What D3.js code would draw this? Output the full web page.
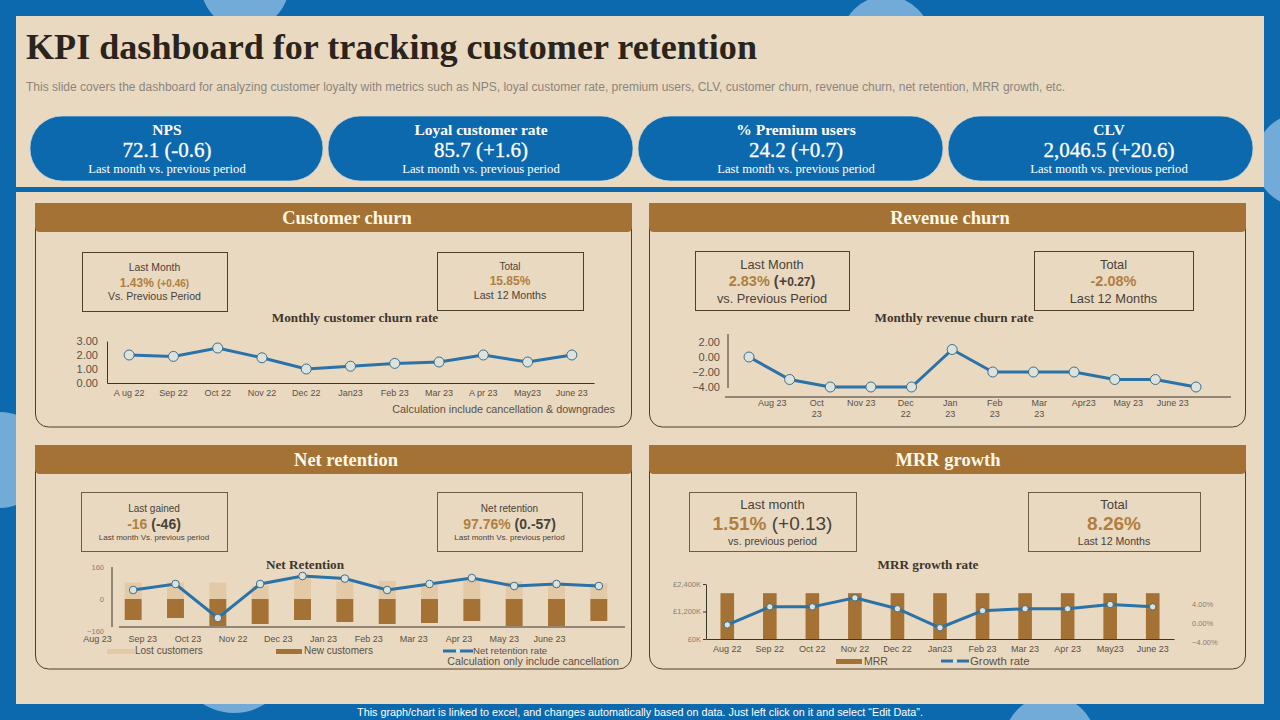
<!DOCTYPE html>
<html>
<head>
<meta charset="utf-8">
<script src="https://cdn.jsdelivr.net/npm/d3@7"></script>
<style>
  html, body { margin: 0; padding: 0; background: #0d69ad; }
  svg { display: block; }
  text { font-family: "Liberation Sans", Arial, sans-serif; }
  .serif { font-family: "Liberation Serif", serif; font-weight: bold; }
</style>
</head>
<body>
<svg id="chart" width="1280" height="720"></svg>
<script>
// values
var kpiNames = ["NPS", "Loyal customer  rate", "% Premium users", "CLV"];
var kpiValues = ["72.1 (-0.6)", "85.7 (+1.6)", "24.2 (+0.7)", "2,046.5 (+20.6)"];

var churnMonths = ["A ug 22", "Sep 22", "Oct 22", "Nov 22", "Dec 22", "Jan23", "Feb 23", "Mar 23", "A pr 23", "May23", "June 23"];
var churnRate = [2.0, 1.9, 2.5, 1.8, 1.0, 1.2, 1.4, 1.5, 2.0, 1.5, 2.0];
var churnTicks = [0, 1, 2, 3];

var revenueMonths = ["Aug  23", "Oct\n23", "Nov 23", "Dec\n22", "Jan\n23", "Feb\n23", "Mar\n23", "Apr23", "May  23", "June 23"];
var revenueRate = [0, -3, -4, -4, -4, 1, -2, -2, -2, -3, -3, -4];
var revenueTicks = [-4, -2, 0, 2];

var netMonths = ["Aug 23", "Sep 23", "Oct 23", "Nov 22", "Dec 23", "Jan 23", "Feb 23", "Mar 23", "Apr 23", "May 23", "June 23"];
var lostCustomers = [82, 82, 82, 65, 110, 87, 90, 70, 95, 87, 70, 78];
var newCustomers = [-105, -95, -135, -125, -105, -115, -125, -120, -110, -135, -135, -110];
var netRate = [45, 75, -95, 75, 115, 102, 45, 75, 105, 65, 75, 65];
var netTicks = [-160, 0, 160];

var mrrMonths = ["Aug 22", "Sep 22", "Oct 22", "Nov 22", "Dec 22", "Jan23", "Feb 23", "Mar 23", "Apr 23", "May23", "June 23"];
var mrrValues = [2000, 2000, 2000, 2000, 2000, 2000, 2000, 2000, 2000, 2000, 2000];
var growthRate = [-0.4, 3.4, 3.4, 5.3, 3.0, -1.0, 2.6, 3.0, 3.0, 3.9, 3.4];
var mrrTicks = [0, 1200, 2400];
var growthTicks = [-4, 0, 4];

var blue = "#0d69ad", paper = "#e9d9c1", brown = "#a37234", gold = "#b07f3f",
    lightBar = "#e3c9a5", line = "#2a72a8", ink = "#4a4238", axisInk = "#5a5146", border = "#4f3f2a";

var svg = d3.select("#chart");

// frame
svg.append("rect").attr("width", 1280).attr("height", 720).attr("fill", blue);
var bubbles = [[245, -15, 44], [886, 41, 45], [1302, 160, 47], [0, 460, 48], [234, 655, 58], [1050, 742, 46]];
svg.selectAll("circle.bubble").data(bubbles).enter().append("circle")
    .attr("class", "bubble")
    .attr("cx", function (d) { return d[0]; })
    .attr("cy", function (d) { return d[1]; })
    .attr("r", function (d) { return d[2]; })
    .attr("fill", "#72aad8");
svg.append("rect").attr("x", 16).attr("y", 16).attr("width", 1248).attr("height", 171).attr("fill", paper);
svg.append("rect").attr("x", 16).attr("y", 187).attr("width", 1248).attr("height", 5).attr("fill", blue);
svg.append("rect").attr("x", 16).attr("y", 192).attr("width", 1248).attr("height", 512).attr("fill", paper);

svg.append("text").attr("class", "serif")
    .attr("x", 26).attr("y", 59)
    .attr("font-size", 36).attr("fill", "#2b241c")
    .attr("textLength", 731).attr("lengthAdjust", "spacingAndGlyphs")
    .text("KPI dashboard for tracking customer retention");

svg.append("text")
    .attr("x", 26).attr("y", 91)
    .attr("font-size", 12).attr("fill", "#8c857b")
    .attr("textLength", 1039).attr("lengthAdjust", "spacing")
    .text("This slide covers the dashboard for analyzing customer loyalty with metrics such as NPS, loyal customer rate, premium users, CLV, customer churn, revenue churn, net retention, MRR growth, etc.");

svg.append("text")
    .attr("x", 640).attr("y", 716)
    .attr("text-anchor", "middle").attr("font-size", 10.8).attr("fill", "#ffffff")
    .text("This graph/chart is linked to excel, and changes automatically based on data. Just left click on it and select \u201cEdit Data\u201d.");

// pills
var pillX = [30, 328, 638, 948], pillW = [293, 305, 305, 305], pillText = [167, 481, 796, 1109];
kpiNames.forEach(function (name, i) {
    var cx = pillText[i];
    svg.append("rect")
        .attr("x", pillX[i]).attr("y", 116).attr("width", pillW[i]).attr("height", 65)
        .attr("rx", 32).attr("fill", blue).attr("stroke", "#cfdcdc").attr("stroke-width", 0.7);
    svg.append("text").attr("class", "serif")
        .attr("x", cx).attr("y", 135).attr("text-anchor", "middle")
        .attr("font-size", 15.5).attr("fill", "#ffffff").text(name);
    svg.append("text").attr("class", "serif").style("font-weight", "normal")
        .attr("x", cx).attr("y", 157).attr("text-anchor", "middle")
        .attr("font-size", 21).attr("fill", "#ffffff")
        .attr("stroke", "#ffffff").attr("stroke-width", 0.3).text(kpiValues[i]);
    svg.append("text").attr("class", "serif").style("font-weight", "normal")
        .attr("x", cx).attr("y", 173).attr("text-anchor", "middle")
        .attr("font-size", 12.7).attr("fill", "#ffffff").text("Last month vs. previous period");
});

function panel(x, y, w, h, title, titleX) {
    svg.append("rect")
        .attr("x", x + 0.5).attr("y", y + 8).attr("width", w - 1).attr("height", h - 8)
        .attr("rx", 13).attr("fill", "none").attr("stroke", border).attr("stroke-width", 1);
    svg.append("path")
        .attr("d", "M" + x + "," + y + "H" + (x + w) + "V" + (y + 24) + "q0,5 -5,5H" + (x + 5) + "q-5,0 -5,-5Z")
        .attr("fill", brown);
    svg.append("text").attr("class", "serif")
        .attr("x", titleX).attr("y", y + 21).attr("text-anchor", "middle")
        .attr("font-size", 18.5).attr("fill", "#fff8e8").text(title);
}
panel(35, 203, 597, 224, "Customer churn", 347);
panel(649, 203, 597, 224, "Revenue churn", 950);
panel(35, 445, 597, 224, "Net retention", 346);
panel(649, 445, 597, 224, "MRR growth", 948);

// box with top line, value line and bottom line. parts = [text, colour, bold]
function statBox(x, y, w, h, top, parts, bottom, sizes, ys, stroke) {
    var cx = x + w / 2;
    svg.append("rect").attr("x", x + 0.5).attr("y", y + 0.5).attr("width", w).attr("height", h)
        .attr("fill", "none").attr("stroke", stroke || border);
    svg.append("text").attr("x", cx).attr("y", y + ys[0]).attr("text-anchor", "middle")
        .attr("font-size", sizes[0]).attr("fill", ink).text(top);
    var t = svg.append("text").attr("x", cx).attr("y", y + ys[1]).attr("text-anchor", "middle")
        .attr("font-size", sizes[1]);
    parts.forEach(function (p) {
        t.append("tspan").attr("fill", p[1]).attr("font-weight", p[2] ? "bold" : "normal")
            .attr("font-size", p[3] || sizes[1]).text(p[0]);
    });
    svg.append("text").attr("x", cx).attr("y", y + ys[2]).attr("text-anchor", "middle")
        .attr("font-size", sizes[2]).attr("fill", ink).text(bottom);
}
statBox(82, 252, 145, 59, "Last Month", [["1.43% ", gold, true], [" (+0.46)", gold, true, 10]], "Vs. Previous Period", [10.4, 12, 10.6], [19, 35, 48]);
statBox(437, 252, 146, 58, "Total", [["15.85%", gold, true]], "Last 12 Months", [10, 12, 10.6], [18, 33, 47]);
statBox(695, 251, 154, 59, "Last Month", [["2.83% ", gold, true], ["(+", ink, true], ["0.27", ink, true, 12], [")", ink, true]], "vs.  Previous  Period", [12.8, 14.5, 12.8], [18, 35, 52]);
statBox(1034, 251, 159, 59, "Total", [["-2.08%", gold, true]], "Last 12 Months", [12.8, 14.5, 12.8], [18, 35, 52]);
statBox(81, 492, 146, 59, "Last gained", [["-16 ", gold, true], ["(-46)", ink, true]], "Last month  Vs. previous  period", [10, 14, 8], [20, 37, 48], "#6b5d4a");
statBox(437, 492, 145, 59, "Net retention", [["97.76% ", gold, true], ["(0.-57)", ink, true]], "Last month  Vs. previous  period", [10, 14, 8], [20, 37, 48], "#6b5d4a");
statBox(689, 492, 167, 59, "Last month", [["1.51% ", gold, true], ["(+0.13)", ink, false]], "vs. previous period", [13, 19, 10.6], [17, 38, 53], "#6b5d4a");
statBox(1028, 492, 172, 59, "Total", [["8.26%", gold, true]], "Last 12 Months", [13, 19, 10.6], [17, 38, 53], "#6b5d4a");

function chartTitle(x, y, s) {
    svg.append("text").attr("class", "serif")
        .attr("x", x).attr("y", y).attr("text-anchor", "middle")
        .attr("font-size", 13.2).attr("fill", "#3e362c").text(s);
}
chartTitle(355, 322, "Monthly customer churn rate");
chartTitle(954, 322, "Monthly revenue churn rate");
chartTitle(305, 569, "Net Retention");
chartTitle(928, 569, "MRR  growth rate");

function styleAxis(g, size, color, tickLine) {
    g.select(".domain").attr("stroke", "#3e352a").attr("stroke-width", 1);
    g.selectAll(".tick line").attr("stroke", tickLine ? "#3e352a" : "none");
    g.selectAll(".tick text")
        .style("font-family", '"Liberation Sans", Arial, sans-serif')
        .attr("font-size", size).attr("fill", color);
}

function drawLine(xf, yf, values, width, r) {
    var path = d3.line().x(function (d, i) { return xf(i); }).y(function (d) { return yf(d); });
    svg.append("path").datum(values)
        .attr("d", path).attr("fill", "none")
        .attr("stroke", line).attr("stroke-width", width);
    svg.append("g").selectAll("circle").data(values).enter().append("circle")
        .attr("cx", function (d, i) { return xf(i); })
        .attr("cy", function (d) { return yf(d); })
        .attr("r", r)
        .attr("fill", "#dde3da").attr("stroke", "#3f6e8e").attr("stroke-width", 1);
}

function note(x, y, s, size, anchor) {
    svg.append("text").attr("x", x).attr("y", y).attr("text-anchor", anchor || "start")
        .attr("font-size", size).attr("fill", axisInk).text(s);
}

// customer churn
var x1 = d3.scaleBand().domain(churnMonths).range([107, 594]);
var y1 = d3.scaleLinear().domain([0, 3]).range([383, 341]);
svg.append("g").attr("transform", "translate(0,383)")
    .call(d3.axisBottom(x1).tickSize(0).tickPadding(7))
    .call(styleAxis, 9, axisInk);
svg.append("g").attr("transform", "translate(107,0)")
    .call(d3.axisLeft(y1).tickValues(churnTicks).tickFormat(d3.format(".2f")).tickSize(0).tickPadding(9))
    .call(styleAxis, 11, axisInk);
drawLine(function (i) { return x1(churnMonths[i]) + x1.bandwidth() / 2; }, y1, churnRate, 3, 5);
note(615, 413, "Calculation  include cancellation & downgrades", 10.8, "end");

// revenue churn: the picture has 12 points under 10 labels
var x2pts = d3.scalePoint().domain(d3.range(revenueRate.length)).range([749, 1196]);
var x2 = d3.scaleBand().domain(revenueMonths).range([750, 1195]);
var y2 = d3.scaleLinear().domain([-4, 2]).range([387, 342]);
var g2 = svg.append("g").attr("transform", "translate(0,397)")
    .call(d3.axisBottom(x2).tickSize(0).tickPadding(3))
    .call(styleAxis, 9, axisInk);
g2.select(".domain").attr("d", "M725,0H1231");
g2.selectAll(".tick text").each(function (d) {
    var t = d3.select(this), parts = d.split("\n");
    t.text(null);
    parts.forEach(function (p, i) {
        t.append("tspan").attr("x", 0).attr("dy", i ? 11 : "0.71em").text(p);
    });
});
var yAxis2 = svg.append("g").attr("transform", "translate(728,0)")
    .call(d3.axisLeft(y2).tickValues(revenueTicks).tickFormat(d3.format(".2f")).tickSize(0).tickPadding(8))
    .call(styleAxis, 11, axisInk);
yAxis2.select(".domain").attr("d", "M0,334V388");
drawLine(function (i) { return x2pts(i); }, y2, revenueRate, 3, 5);

// net retention
var x3 = d3.scaleBand().domain(d3.range(lostCustomers.length)).range([112, 620]).paddingInner(0.6).paddingOuter(0.3);
var x3labels = d3.scaleBand().domain(netMonths).range([75, 572]);
var y3 = d3.scaleLinear().domain([-160, 160]).range([631, 567]);
svg.append("g").selectAll("rect").data(lostCustomers).enter().append("rect")
    .attr("x", function (d, i) { return x3(i); })
    .attr("y", function (d) { return y3(d); })
    .attr("width", x3.bandwidth())
    .attr("height", function (d) { return y3(0) - y3(d); })
    .attr("fill", lightBar);
svg.append("g").selectAll("rect").data(newCustomers).enter().append("rect")
    .attr("x", function (d, i) { return x3(i); })
    .attr("y", y3(0))
    .attr("width", x3.bandwidth())
    .attr("height", function (d) { return y3(d) - y3(0); })
    .attr("fill", brown);
var g3 = svg.append("g").attr("transform", "translate(0,627)")
    .call(d3.axisBottom(x3labels).tickSize(0).tickPadding(9))
    .call(styleAxis, 9, axisInk);
g3.select(".domain").attr("d", "M119,0H625");
svg.append("g").attr("transform", "translate(112,0)")
    .call(d3.axisLeft(y3).tickValues(netTicks).tickSize(0).tickPadding(8))
    .call(styleAxis, 7.5, "#8a7f70")
    .select(".domain").attr("d", "M0,567V627");
drawLine(function (i) { return x3(i) + x3.bandwidth() / 2; }, y3, netRate, 3, 3.8);

function legendBar(x, w, y, h, color) {
    svg.append("rect").attr("x", x).attr("y", y).attr("width", w).attr("height", h).attr("fill", color);
}
function legendLine(x, w, y) {
    svg.append("line").attr("x1", x).attr("x2", x + w).attr("y1", y).attr("y2", y)
        .attr("stroke", line).attr("stroke-width", 3);
    svg.append("circle").attr("cx", x + w / 2).attr("cy", y).attr("r", 2.2).attr("fill", "#dde3da");
}
legendBar(107, 28, 649, 5, lightBar);
note(135, 654, "Lost customers", 10);
legendBar(276, 26, 649, 5, brown);
note(304, 654, "New customers", 10);
legendLine(443, 30, 651);
note(473, 654, "Net retention rate", 9.6);
note(619, 665, "Calculation  only include cancellation", 10.7, "end");

// mrr growth
var x4 = d3.scaleBand().domain(mrrMonths).range([706, 1174]).paddingInner(0.68).paddingOuter(0.34);
var x4labels = d3.scaleBand().domain(mrrMonths).range([706, 1174]);
var y4 = d3.scaleLinear().domain([0, 2400]).range([639, 584]);
var y4r = d3.scaleLinear().domain([-4, 4]).range([642, 604]);
svg.append("g").selectAll("rect").data(mrrValues).enter().append("rect")
    .attr("x", function (d, i) { return x4(mrrMonths[i]); })
    .attr("y", function (d) { return y4(d); })
    .attr("width", x4.bandwidth())
    .attr("height", function (d) { return y4(0) - y4(d); })
    .attr("fill", brown);
svg.append("g").attr("transform", "translate(0,639)")
    .call(d3.axisBottom(x4labels).tickSize(0).tickPadding(7))
    .call(styleAxis, 9, axisInk);
svg.append("g").attr("transform", "translate(706,0)")
    .call(d3.axisLeft(y4).tickValues(mrrTicks).tickSize(3).tickSizeOuter(0).tickPadding(2)
        .tickFormat(function (d) { return "\u00a3" + d3.format(",")(d) + "K"; }))
    .call(styleAxis, 7.5, "#8a7f70", true);
svg.append("g").attr("transform", "translate(1189,0)")
    .call(d3.axisRight(y4r).tickValues(growthTicks).tickSize(0).tickPadding(3)
        .tickFormat(function (d) { return d3.format(".2f")(d) + "%"; }))
    .call(styleAxis, 7.5, "#8a7f70")
    .select(".domain").remove();
drawLine(function (i) { return x4(mrrMonths[i]) + x4.bandwidth() / 2; }, y4r, growthRate, 3, 3.2);

legendBar(836, 26, 659, 5, brown);
note(864, 665, "MRR", 10.5);
legendLine(941, 28, 661);
note(970, 665, "Growth rate", 11.4);
</script>
</body>
</html>
